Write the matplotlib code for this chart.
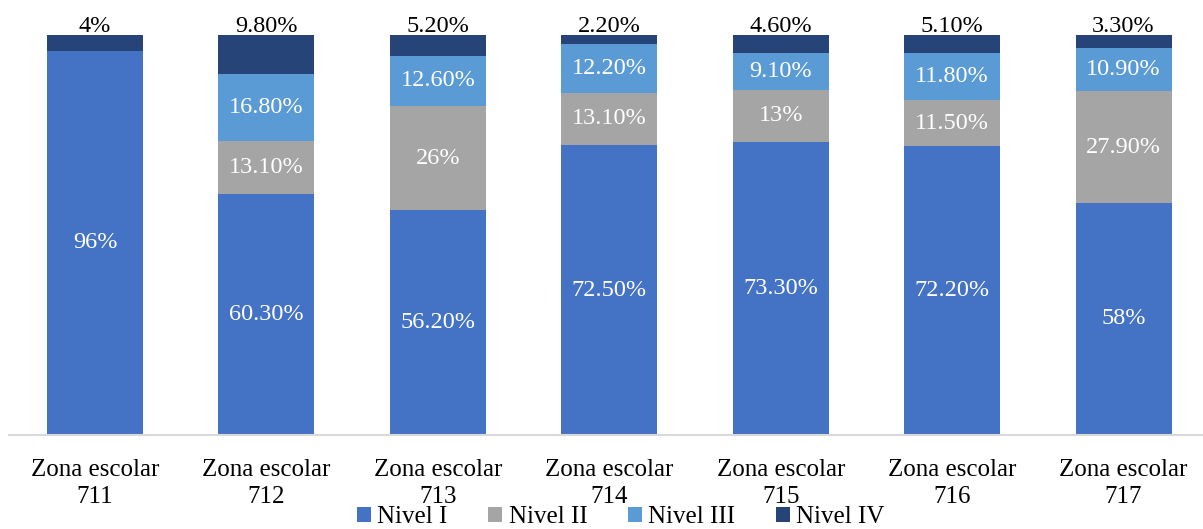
import numpy as np
import matplotlib.pyplot as plt

zonas = ["711", "712", "713", "714", "715", "716", "717"]
nivel_1 = [96, 60.3, 56.2, 72.5, 73.3, 72.2, 58]
nivel_2 = [0, 13.1, 26, 13.1, 13, 11.5, 27.9]
nivel_3 = [0, 16.8, 12.6, 12.2, 9.1, 11.8, 10.9]
nivel_4 = [4, 9.8, 5.2, 2.2, 4.6, 5.1, 3.3]
series_names = ["Nivel I", "Nivel II", "Nivel III", "Nivel IV"]
colors = ["#4472C4", "#A5A5A5", "#5B9BD5", "#264478"]

plt.rcParams['font.family'] = ['Liberation Serif', 'DejaVu Serif']


def fmt(v):
    # etiquetas como en Excel: 96% / 60.30%
    if float(v).is_integer():
        return "%d%%" % v
    return "%.2f%%" % v


fig = plt.figure(figsize=(12.03, 5.29), dpi=100)
ax = fig.add_axes([9.3 / 1203, 94 / 529, 1200 / 1203, 400 / 529])

x = np.arange(len(zonas))
bottom = np.zeros(len(zonas))
data = [nivel_1, nivel_2, nivel_3, nivel_4]
for k, vals in enumerate(data):
    vals = np.array(vals, dtype=float)
    ax.bar(x, vals, 0.56, bottom=bottom, color=colors[k], label=series_names[k])
    for i, v in enumerate(vals):
        if v <= 0:
            continue
        if k == 3:
            # la ultima etiqueta va encima de la barra (100%)
            ax.annotate(fmt(v), (x[i], min(bottom[i] + v, 100)), xytext=(0, 2.5),
                        textcoords="offset points", ha="center", va="baseline",
                        fontsize=17.5, color="black", annotation_clip=False)
        else:
            ax.text(x[i], bottom[i] + v / 2, fmt(v), ha="center", va="center",
                    fontsize=17.5, color="white")
    bottom += vals

ax.set_xlim(-0.5, len(zonas) - 0.5)
ax.set_ylim(0, 100)
ax.set_yticks([])
ax.set_xticks(x)
ax.set_xticklabels(["Zona escolar\n" + z for z in zonas], fontsize=18, linespacing=1.3)
ax.tick_params(axis="x", length=0, pad=17)
for s in ["top", "right", "left"]:
    ax.spines[s].set_visible(False)
ax.spines["bottom"].set_color("#D9D9D9")
ax.spines["bottom"].set_linewidth(1.5)

fig.legend(loc="center", bbox_to_anchor=(0.516, 0.022), ncol=4, frameon=False,
           fontsize=18, handlelength=0.56, handleheight=0.56, handletextpad=0.26,
           columnspacing=1.62, borderpad=0)

fig.savefig("out.png", dpi=100)
